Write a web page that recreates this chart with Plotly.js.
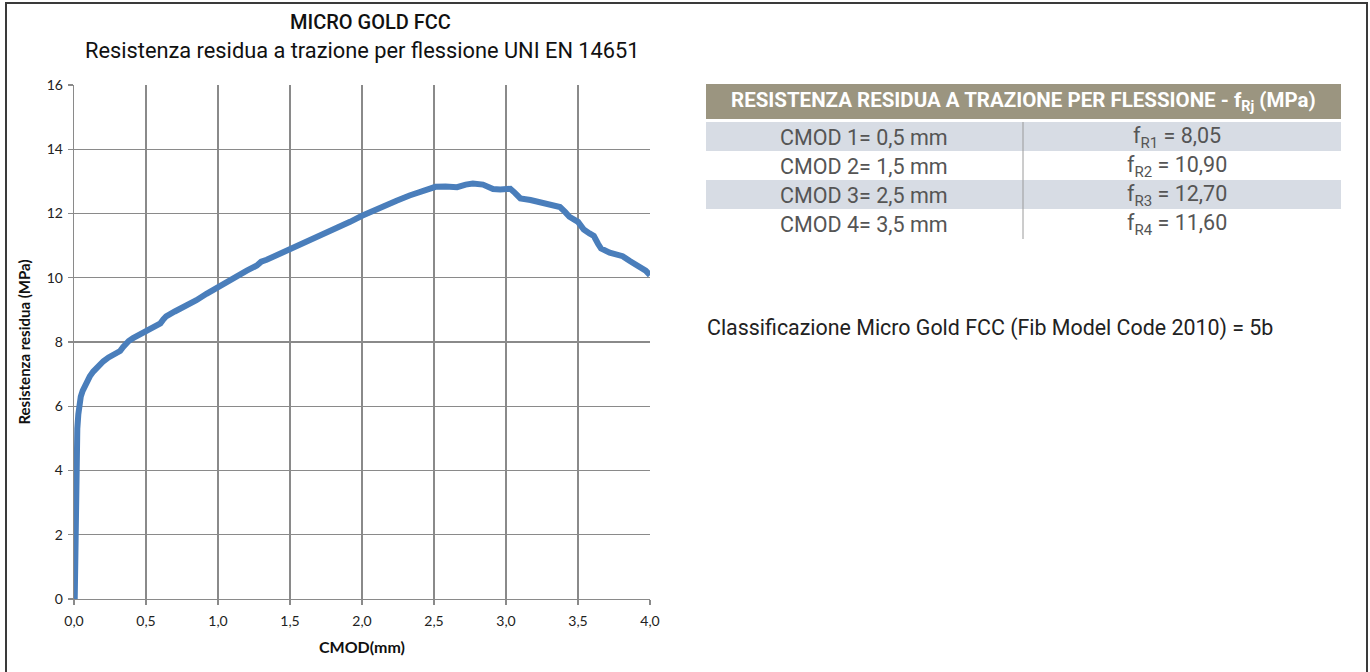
<!DOCTYPE html>
<html>
<head>
<meta charset="utf-8">
<script src="https://cdn.plot.ly/plotly-3.0.1.min.js"></script>
<style>
html,body{margin:0;padding:0;background:#fff;}
#chart{width:1370px;height:672px;}
</style>
</head>
<body>
<div id="chart"></div>
<script>
// ---- data ----
const cmod = [0.005,0.008,0.011,0.014,0.018,0.023,0.030,0.037,0.047,0.060,0.075,0.088,0.110,0.134,0.165,0.204,0.240,0.273,0.300,0.320,0.340,0.354,0.380,0.410,0.450,0.500,0.550,0.600,0.620,0.640,0.700,0.780,0.850,0.920,1.000,1.060,1.106,1.200,1.270,1.300,1.338,1.420,1.500,1.600,1.685,1.760,1.847,1.917,2.000,2.080,2.150,2.240,2.330,2.420,2.510,2.580,2.660,2.720,2.770,2.840,2.910,2.960,3.030,3.060,3.100,3.170,3.220,3.280,3.320,3.375,3.410,3.440,3.500,3.540,3.580,3.610,3.640,3.660,3.720,3.770,3.810,3.860,3.930,3.970,4.000];
const stress = [0,1.0,2.5,4.0,4.8,5.3,5.75,6.03,6.30,6.48,6.65,6.78,6.93,7.08,7.25,7.40,7.52,7.61,7.66,7.72,7.84,7.93,8.03,8.12,8.22,8.33,8.45,8.58,8.70,8.80,8.95,9.13,9.30,9.50,9.72,9.88,10.00,10.22,10.38,10.50,10.56,10.72,10.92,11.08,11.25,11.40,11.57,11.74,11.93,12.10,12.24,12.40,12.56,12.70,12.83,12.84,12.82,12.90,12.93,12.90,12.76,12.75,12.77,12.65,12.47,12.42,12.36,12.31,12.26,12.20,12.05,11.90,11.74,11.50,11.38,11.30,11.05,10.91,10.78,10.73,10.67,10.52,10.34,10.22,10.08];
const xTicks = [0,0.5,1,1.5,2,2.5,3,3.5,4];
const yTicks = [0,2,4,6,8,10,12,14,16];

const chartTitle = "MICRO GOLD FCC";
const chartSubtitle = "Resistenza residua a trazione per flessione UNI EN 14651";
const xTitle = "CMOD(mm)";
const yTitle = "Resistenza residua (MPa)";

const tableHeader = "RESISTENZA RESIDUA A TRAZIONE PER FLESSIONE - f<sub>Rj</sub> (MPa)";
const cmodLabels = ["CMOD 1= 0,5 mm","CMOD 2= 1,5 mm","CMOD 3= 2,5 mm","CMOD 4= 3,5 mm"];
const frNames = ["R1","R2","R3","R4"];
const frValues = ["8,05","10,90","12,70","11,60"];
const classification = "Classificazione Micro Gold FCC (Fib Model Code 2010) = 5b";

// ---- layout helpers (pixel -> paper) ----
const W = 1370, H = 672;
const L = 74, R = 650, T = 85, B = 599;
const px = v => (v - L) / (R - L);
const py = v => (B - v) / (B - T);

const shapes = [];
const annotations = [];

// outer frame
shapes.push({type:'rect', xref:'paper', yref:'paper', x0:px(6), x1:px(1367), y0:py(3), y1:py(700),
  line:{color:'#3a3a3a', width:2}, fillcolor:'rgba(0,0,0,0)', layer:'below'});

// table header band
shapes.push({type:'rect', xref:'paper', yref:'paper', x0:px(706), x1:px(1341), y0:py(84), y1:py(119),
  line:{width:0}, fillcolor:'#9b9580', layer:'below'});
// row bands
const rowTops = [122,151,180,209];
const rowH = 29;
rowTops.forEach((t,i)=>{
  if(i%2===0){
    shapes.push({type:'rect', xref:'paper', yref:'paper', x0:px(706), x1:px(1341), y0:py(t), y1:py(t+rowH),
      line:{width:0}, fillcolor:'#d7dce4', layer:'below'});
  }
});
// column separator
shapes.push({type:'line', xref:'paper', yref:'paper', x0:px(1023), x1:px(1023), y0:py(122), y1:py(239),
  line:{color:'#9a9a9a', width:1}});

// titles
annotations.push({text:chartTitle, xref:'paper', yref:'paper', x:px(370), y:py(22), showarrow:false,
  xanchor:'center', yanchor:'middle', font:{family:'Roboto', size:20, weight:500, color:'#111'}});
annotations.push({text:chartSubtitle, xref:'paper', yref:'paper', x:px(362), y:py(50), showarrow:false,
  xanchor:'center', yanchor:'middle', font:{family:'Roboto', size:21.8, color:'#111'}});

// table header text
annotations.push({text:'<b>'+tableHeader+'</b>', xref:'paper', yref:'paper', x:px(1023), y:py(101.5), showarrow:false,
  xanchor:'center', yanchor:'middle', font:{family:'Roboto', size:20.5, color:'#ffffff'}});

// rows
rowTops.forEach((t,i)=>{
  const yc = py(t + rowH/2 + 1);
  annotations.push({text:cmodLabels[i], xref:'paper', yref:'paper', x:px(864), y:yc, showarrow:false,
    xanchor:'center', yanchor:'middle', font:{family:'Roboto', size:21.5, color:'#555'}});
  annotations.push({text:'f<sub>'+frNames[i]+'</sub> = '+frValues[i], xref:'paper', yref:'paper', x:px(1177), y:yc, showarrow:false,
    xanchor:'center', yanchor:'middle', font:{family:'Roboto', size:21.5, color:'#555'}});
});

// classification
annotations.push({text:classification, xref:'paper', yref:'paper', x:px(705), y:py(328), showarrow:false,
  xanchor:'left', yanchor:'middle', font:{family:'Roboto', size:21.4, color:'#222'}});

const trace = {
  x: cmod, y: stress, type:'scatter', mode:'lines',
  line:{color:'#4a7ebb', width:6, shape:'linear'},
  hoverinfo:'skip', showlegend:false
};

const layout = {
  width:W, height:H,
  margin:{l:L, r:W-R, t:T, b:H-B, pad:0},
  paper_bgcolor:'#fff', plot_bgcolor:'#fff',
  separators:',.',
  showlegend:false,
  xaxis:{
    range:[0,4], tickvals:xTicks, tickformat:'.1f',
    showgrid:true, gridcolor:'#8a8a8a', gridwidth:1.3,
    showline:true, linecolor:'#8a8a8a', linewidth:1.3,
    ticks:'outside', ticklen:5, tickcolor:'#8a8a8a', tickwidth:1.3,
    ticklabelstandoff:4,
    tickfont:{family:'Lato', size:14, color:'#222'},
    zeroline:false, mirror:false,
    title:{text:'<b>'+xTitle+'</b>', font:{family:'Lato', size:16, color:'#111'}, standoff:13}
  },
  yaxis:{
    range:[0,16], tickvals:yTicks,
    showgrid:true, gridcolor:'#8a8a8a', gridwidth:1.3,
    showline:true, linecolor:'#8a8a8a', linewidth:1.3,
    ticks:'outside', ticklen:5, tickcolor:'#8a8a8a', tickwidth:1.3,
    ticklabelstandoff:2,
    tickfont:{family:'Lato', size:14, color:'#222'},
    zeroline:false,
    title:{text:'<b>'+yTitle+'</b>', font:{family:'Lato', size:15, color:'#111'}, standoff:12}
  },
  shapes:shapes,
  annotations:annotations
};

Plotly.newPlot('chart', [trace], layout, {displayModeBar:false, staticPlot:true});
</script>
</body>
</html>
